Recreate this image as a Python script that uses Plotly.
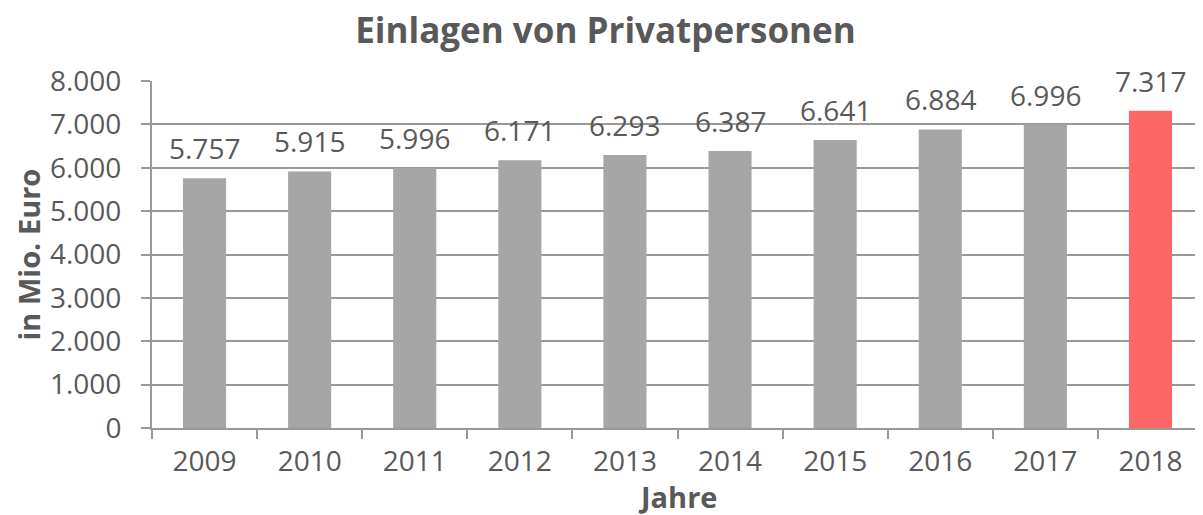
import plotly.graph_objects as go

years = ["2009", "2010", "2011", "2012", "2013", "2014", "2015", "2016", "2017", "2018"]
values = [5757, 5915, 5996, 6171, 6293, 6387, 6641, 6884, 6996, 7317]
bar_colors = ["#a6a6a6"] * 9 + ["#ff6666"]
y_ticks = [0, 1000, 2000, 3000, 4000, 5000, 6000, 7000, 8000]


def de(v):
    return f"{v:,}".replace(",", ".")


font_color = "#595959"
grid_color = "#999999"
fig = go.Figure(go.Bar(
    x=years, y=values, marker=dict(color=bar_colors, line=dict(width=0)),
    hoverinfo="x+y",
))
# value labels above bars (x given as category index)
for i, v in enumerate(values):
    fig.add_annotation(x=i, y=v, xref="x", yref="y", text=de(v), showarrow=False,
                       yanchor="bottom", yshift=9, font=dict(size=28, color=font_color))

# axis titles
fig.add_annotation(x=0, y=0.5, xref="paper", yref="paper", xshift=-124,
                   text="<b>in Mio. Euro</b>", textangle=-90, showarrow=False,
                   xanchor="center", yanchor="middle", font=dict(size=29, color=font_color))
fig.add_annotation(x=0.5, y=0, xref="paper", yref="paper", yshift=-68,
                   text="<b>Jahre</b>", showarrow=False,
                   xanchor="center", yanchor="middle", font=dict(size=29, color=font_color))

fig.update_layout(
    width=1195, height=507,
    margin=dict(l=144, r=0, t=73, b=87),
    paper_bgcolor="white", plot_bgcolor="white",
    font=dict(family="Open Sans", color=font_color, size=28),
    bargap=0.59,
    showlegend=False,
    title=dict(text="<b>Einlagen von Privatpersonen</b>", x=0.5, xanchor="center",
               y=0.98, yanchor="top", font=dict(size=35, color=font_color)),
)
fig.update_yaxes(
    range=[0, 8000], tickvals=y_ticks, ticktext=[de(v) for v in y_ticks],
    showgrid=True, gridcolor=grid_color, gridwidth=2,
    showline=True, linecolor=grid_color, linewidth=2,
    ticks="outside", ticklen=9, tickcolor=grid_color, tickwidth=2,
    ticklabelstandoff=14,
    tickfont=dict(size=28), zeroline=False, automargin=False,
)
fig.update_xaxes(
    type="category", categoryorder="array", categoryarray=years,
    range=[-0.5, len(years) - 0.5],
    showline=True, linecolor=grid_color, linewidth=2,
    ticks="outside", tickson="boundaries", ticklen=9, tickcolor=grid_color, tickwidth=2,
    ticklabelstandoff=7,
    tickfont=dict(size=28), tickangle=0, automargin=False,
)
fig.write_html("out.html")
